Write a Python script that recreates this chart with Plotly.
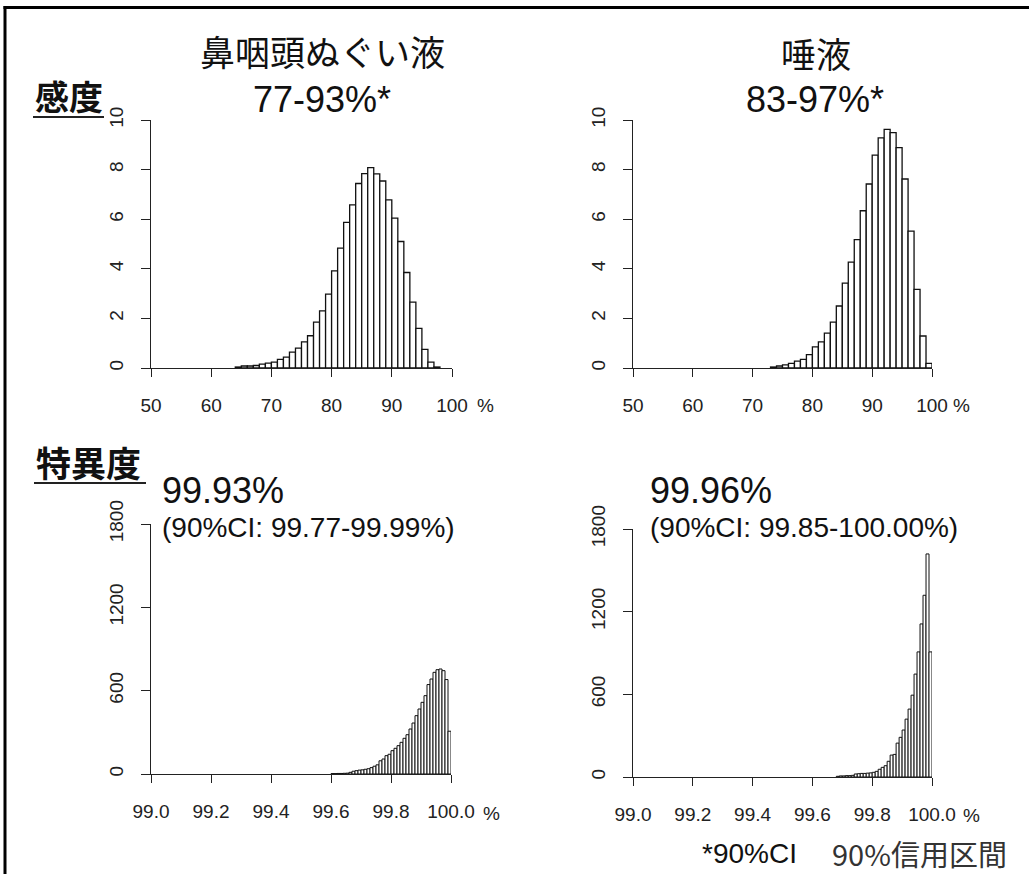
import plotly.graph_objects as go

W, H = 1029, 874

# ---------------- data ----------------
# Sensitivity, nasopharyngeal swab: bins of width 1 (%), starting at 64
sens_np_start = 64
sens_np_width = 1.0
sens_np_values = [0.04, 0.08, 0.08, 0.10, 0.16, 0.20, 0.24, 0.35, 0.44, 0.64,
                  0.80, 1.05, 1.30, 1.85, 2.30, 2.98, 3.92, 4.83, 5.87, 6.58,
                  7.44, 7.84, 8.08, 7.83, 7.54, 6.78, 6.04, 5.10, 3.85, 2.66,
                  1.60, 0.75, 0.24, 0.04]

# Sensitivity, saliva: bins of width 1 (%), starting at 73
sens_sa_start = 73
sens_sa_width = 1.0
sens_sa_values = [0.04, 0.08, 0.13, 0.19, 0.28, 0.35, 0.54, 0.85, 1.05, 1.41,
                  1.85, 2.50, 3.42, 4.27, 5.18, 6.34, 7.42, 8.58, 9.28, 9.62,
                  9.49, 8.89, 7.62, 5.52, 3.17, 1.29, 0.19]

# Specificity, nasopharyngeal swab: bins of width 0.01 (%), starting at 99.60
spec_np_start = 99.60
spec_np_width = 0.01
spec_np_values = [3, 3, 4, 4, 5, 6, 12, 20, 24, 28,
                  30, 34, 38, 46, 56, 66, 95, 108, 132, 142,
                  168, 185, 204, 228, 257, 283, 324, 367, 420, 468,
                  516, 564, 644, 684, 732, 751, 756, 744, 680, 308]

# Specificity, saliva: bins of width 0.01 (%), starting at 99.68
spec_sa_start = 99.68
spec_sa_width = 0.01
spec_sa_values = [5, 8, 8, 10, 10, 12, 22, 24, 26, 26, 28, 30,
                  34, 41, 56, 70, 82, 114, 159, 164, 246, 288,
                  341, 420, 493, 594, 747, 908, 1111, 1319, 1619, 908]

sens_ticks = [50, 60, 70, 80, 90, 100]
sens_ticktext = ["50", "60", "70", "80", "90", "100"]
sens_yticks = [0, 2, 4, 6, 8, 10]
spec_ticks = [99.0, 99.2, 99.4, 99.6, 99.8, 100.0]
spec_ticktext = ["99.0", "99.2", "99.4", "99.6", "99.8", "100.0"]
spec_yticks = [0, 600, 1200, 1800]

col_titles = ["鼻咽頭ぬぐい液", "唾液"]
sens_ci = ["77-93%*", "83-97%*"]
spec_est = ["99.93%", "99.96%"]
spec_ci = ["(90%CI: 99.77-99.99%)", "(90%CI: 99.85-100.00%)"]
row_labels = ["感度", "特異度"]
footnote_a = "*90%CI"
footnote_b = "90%信用区間"


# ---------------- helpers ----------------
def px(x):
    return x / W


def py(y):
    return 1 - y / H


def centers(start, width, values):
    return [start + width * (i + 0.5) for i in range(len(values))]


LATIN = "Liberation Sans, Arial, sans-serif"
CJK = "Noto Sans CJK JP, sans-serif"
AX = "#222222"

fig = go.Figure()

panels = [
    (sens_np_values, sens_np_start, sens_np_width, "x", "y"),
    (sens_sa_values, sens_sa_start, sens_sa_width, "x2", "y2"),
    (spec_np_values, spec_np_start, spec_np_width, "x3", "y3"),
    (spec_sa_values, spec_sa_start, spec_sa_width, "x4", "y4"),
]
for vals, start, width, xa, ya in panels:
    lw = 1.3 if width >= 1 else 1.0
    fig.add_trace(go.Bar(
        x=centers(start, width, vals), y=vals, width=width,
        marker=dict(color="white", line=dict(color="#111111", width=lw)),
        xaxis=xa, yaxis=ya, showlegend=False, cliponaxis=False,
        hoverinfo="x+y",
    ))

dom = {
    "1": ([px(151), px(452)], [py(368), py(120)]),
    "2": ([px(633), px(932)], [py(368), py(120)]),
    "3": ([px(151), px(451)], [py(774), py(524)]),
    "4": ([px(633), px(932)], [py(777), py(529)]),
}

common_x = dict(showline=True, linecolor=AX, linewidth=1.3, ticks="outside",
                ticklen=8, tickwidth=1.3, tickcolor=AX, showgrid=False,
                zeroline=False, ticklabelstandoff=12, automargin=False,
                tickfont=dict(family=LATIN, size=19, color=AX))
common_y = dict(showline=True, linecolor=AX, linewidth=1.3, ticks="outside",
                ticklen=9, tickwidth=1.3, tickcolor=AX, showgrid=False,
                zeroline=False, tickangle=-90, ticklabelstandoff=10,
                automargin=False,
                tickfont=dict(family=LATIN, size=19, color=AX))

layout_axes = {}
for k in ["1", "2", "3", "4"]:
    xname = "xaxis" if k == "1" else f"xaxis{k}"
    yname = "yaxis" if k == "1" else f"yaxis{k}"
    xd, yd = dom[k]
    anchor_y = "y" if k == "1" else f"y{k}"
    anchor_x = "x" if k == "1" else f"x{k}"
    if k in ("1", "2"):
        xr, xt, xtt = [50, 100], sens_ticks, sens_ticktext
        yr, yt = [0, 10], sens_yticks
    else:
        xr, xt, xtt = [99.0, 100.0], spec_ticks, spec_ticktext
        yr, yt = [0, 1800], spec_yticks
    layout_axes[xname] = dict(common_x, domain=xd, anchor=anchor_y, range=xr,
                              tickmode="array", tickvals=xt, ticktext=xtt)
    layout_axes[yname] = dict(common_y, domain=yd, anchor=anchor_x, range=yr,
                              tickmode="array", tickvals=yt,
                              ticktext=[str(v) for v in yt])

annotations = []


def ann(text, x, y, size, family, xanchor="center", color="#111111", bold=False):
    t = f"<b>{text}</b>" if bold else text
    annotations.append(dict(text=t, x=px(x), y=py(y), xref="paper", yref="paper",
                            xanchor=xanchor, yanchor="middle", showarrow=False,
                            font=dict(size=size, family=family, color=color)))


ann(col_titles[0], 322, 50, 35, CJK)
ann(col_titles[1], 816, 52, 35, CJK)
ann(sens_ci[0], 322, 100, 36, LATIN)
ann(sens_ci[1], 815, 100, 36, LATIN)

ann(row_labels[0], 33, 96, 34, CJK, xanchor="left", bold=True)
ann(row_labels[1], 34, 462, 35, CJK, xanchor="left", bold=True)

ann(spec_est[0], 160, 490, 36, LATIN, xanchor="left")
ann(spec_ci[0], 160, 527, 28, LATIN, xanchor="left")
ann(spec_est[1], 648, 490, 36, LATIN, xanchor="left")
ann(spec_ci[1], 648, 527, 28, LATIN, xanchor="left")

ann("%", 485, 406, 19, LATIN, color=AX)
ann("%", 961, 406, 19, LATIN, color=AX)
ann("%", 491, 813, 19, LATIN, color=AX)
ann("%", 971, 815, 19, LATIN, color=AX)

ann(footnote_a, 700, 853, 28, LATIN, xanchor="left")
ann(footnote_b, 830, 853, 29, CJK, xanchor="left", color="#333333")

shapes = [
    dict(type="line", xref="paper", yref="paper", x0=px(3.5), x1=px(1029),
         y0=py(7.5), y1=py(7.5), line=dict(color="black", width=3)),
    dict(type="line", xref="paper", yref="paper", x0=px(5), x1=px(5),
         y0=py(6), y1=py(874), line=dict(color="black", width=3)),
    dict(type="line", xref="paper", yref="paper", x0=px(33), x1=px(104),
         y0=py(117), y1=py(117), line=dict(color="#222222", width=2)),
    dict(type="line", xref="paper", yref="paper", x0=px(34), x1=px(146),
         y0=py(483), y1=py(483), line=dict(color="#222222", width=2)),
]

fig.update_layout(
    width=W, height=H,
    margin=dict(l=0, r=0, t=0, b=0, pad=0, autoexpand=False),
    paper_bgcolor="white", plot_bgcolor="white",
    annotations=annotations, shapes=shapes, showlegend=False,
    **layout_axes,
)

fig.write_html(
    "out.html",
    config={"displayModeBar": False},
    post_script="document.body.style.margin='0';document.body.style.padding='0';"
                "document.body.style.overflow='hidden';",
)
